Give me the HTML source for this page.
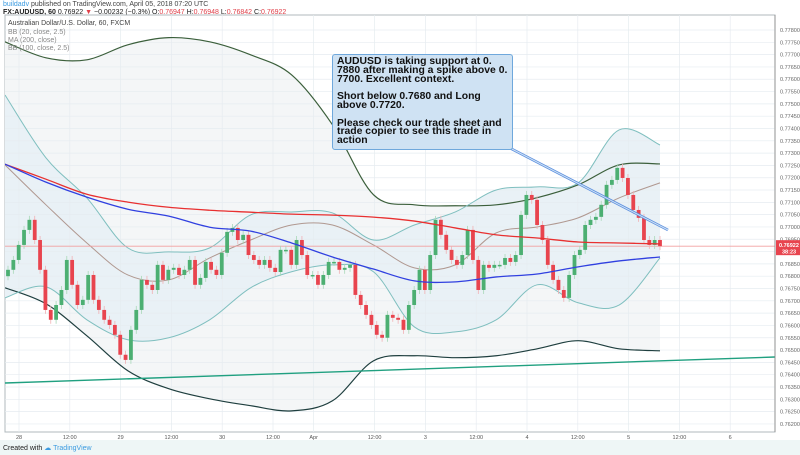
<!DOCTYPE html>
<html><head><meta charset="utf-8"><style>
body{margin:0;width:800px;height:455px;overflow:hidden;background:#fff;font-family:"Liberation Sans",sans-serif;position:relative}
#hdr1{position:absolute;left:3px;top:1px;font-size:7px;color:#444}
#hdr1 b{color:#3c9be0;font-weight:normal}
#hdr2{position:absolute;left:3px;top:9px;font-size:7px;color:#222}
.r{color:#e0404a}
#foot{position:absolute;left:0;top:440px;width:800px;height:15px;background:#eef6f6;font-size:7px;color:#222}
#callout{position:absolute;left:332px;top:54px;width:172px;height:89px;background:#cfe2f3;border:1px solid #6fa8dc;border-radius:3px;padding:3px 3px 2px 4px;font-family:"Liberation Sans",sans-serif;font-weight:bold;font-size:10.4px;line-height:8.8px;color:#111}
#callout p{margin:0 0 8.8px 0}
</style></head><body>
<div id="hdr1"><b>buildadv</b> published on TradingView.com, April 05, 2018 07:20 UTC</div>
<div id="hdr2"><b>FX:AUDUSD, 60</b> 0.76922 <span class="r">▼</span> −0.00232 (−0.3%) O:<span class="r">0.76947</span> H:<span class="r">0.76948</span> L:<span class="r">0.76842</span> C:<span class="r">0.76922</span></div>
<svg id="chart" width="800" height="440" style="position:absolute;left:0;top:0"></svg>
<div id="callout"><p>AUDUSD is taking support at 0. 7880 after making a spike above 0. 7700. Excellent context.</p><p>Short below 0.7680 and Long above 0.7720.</p><p>Please check our trade sheet and trade copier to see this trade in action</p></div>
<div id="foot"><span style="position:absolute;left:3px;top:4px">Created with <span style="color:#3c9be0">☁ TradingView</span></span></div>
<script>
const closes=[0.76826,0.76866,0.76927,0.76988,0.77029,0.76947,0.76826,0.76663,0.76623,0.76683,0.76744,0.76866,0.76765,0.76683,0.76704,0.76805,0.76704,0.76663,0.76623,0.76602,0.76562,0.76481,0.76460,0.76582,0.76663,0.76785,0.76765,0.76744,0.76846,0.76785,0.76826,0.76834,0.76805,0.76826,0.76866,
0.76765,0.76793,0.76858,0.76826,0.76805,0.76895,0.76980,0.76996,0.76947,0.76968,0.76886,0.76866,0.76846,0.76866,0.76834,0.76817,0.76907,0.76907,0.76846,0.76947,0.76886,0.76805,0.76805,0.76765,0.76805,0.76858,0.76858,0.76826,0.76834,0.76846,0.76724,0.76683,0.76643,0.76602,0.76562,0.76550,0.76643,0.76631,0.76623,0.76582,0.76683,0.76744,0.76826,
0.76744,0.76886,0.77029,0.76968,0.76907,0.76866,0.76846,0.76886,0.76988,0.76866,0.76744,0.76846,0.76834,0.76846,0.76846,0.76874,0.76858,0.76886,0.77049,0.77130,0.77110,0.77008,0.76947,0.76846,0.76785,0.76744,0.76712,0.76805,0.76886,0.76907,0.77008,0.77029,0.77041,0.77090,0.77171,0.77191,0.77240,0.77199,0.77130,0.77069,0.77037,0.76947,0.76927,0.76947,0.76922];
const firstOpen=0.76800;
const ma200=[0.77255,0.77194,0.77133,0.77101,0.77080,0.77068,0.77060,0.77052,0.77048,0.77040,0.77024,0.76996,0.76968,0.76955,0.76939,0.76935,0.76931];
const maBlue=[0.77255,0.77182,0.77121,0.77072,0.77044,0.76999,0.76983,0.76935,0.76878,0.76829,0.76781,0.76777,0.76797,0.76809,0.76838,0.76862,0.76878];
const bb100Up=[0.77752,0.77687,0.77679,0.77740,0.77769,0.77752,0.77699,0.77618,0.77415,0.77131,0.77090,0.77086,0.77090,0.77119,0.77171,0.77252,0.77256];
const bb100Lo=[0.76753,0.76688,0.76558,0.76416,0.76343,0.76302,0.76274,0.76253,0.76294,0.76456,0.76477,0.76469,0.76477,0.76505,0.76538,0.76505,0.76497];
const bb20Up=[0.77536,0.77281,0.77118,0.76915,0.76899,0.76915,0.77049,0.77061,0.77057,0.76947,0.77008,0.77061,0.77150,0.77163,0.77179,0.77394,0.77333];
const bb20Lo=[0.76712,0.76757,0.76623,0.76542,0.76550,0.76623,0.76753,0.76818,0.76846,0.76818,0.76594,0.76574,0.76623,0.76765,0.76692,0.76683,0.76874];
const bb20Mid=[0.77252,0.77090,0.76935,0.76805,0.76785,0.76874,0.76947,0.77008,0.77008,0.76927,0.76834,0.76846,0.76976,0.77000,0.77037,0.77118,0.77179];
const yTicks=[0.778,0.7775,0.777,0.7765,0.776,0.7755,0.775,0.7745,0.774,0.7735,0.773,0.7725,0.772,0.7715,0.771,0.7705,0.77,0.7695,0.769,0.7685,0.768,0.7675,0.767,0.7665,0.766,0.7655,0.765,0.7645,0.764,0.7635,0.763,0.7625,0.762];
const xTickLabels=["28","12:00","29","12:00","30","12:00","Apr","12:00","3","12:00","4","12:00","5","12:00","6"];
const xTickPos=[0,0.5,1,1.5,2,2.5,2.9,3.5,4,4.5,5,5.5,6,6.5,7];
const lastPrice=0.76922;

const NS="http://www.w3.org/2000/svg",svg=document.getElementById('chart');
const PL=5,PR=775,PT=15,PB=432;
const y=p=>30+(0.778-p)/0.0005*12.31;
const xDay=d=>19+d*101.6;
const xBar=i=>8+i*(652/(closes.length-1));
const xSmp=k=>5+k*(655/(ma200.length-1));
function el(t,a,parent){const e=document.createElementNS(NS,t);for(const k in a)e.setAttribute(k,a[k]);(parent||svg).appendChild(e);return e;}
function smooth(pts,start){let d=start?'M'+pts[0][0]+','+pts[0][1]:'L'+pts[0][0]+','+pts[0][1];
 for(let i=0;i<pts.length-1;i++){const p0=pts[Math.max(0,i-1)],p1=pts[i],p2=pts[i+1],p3=pts[Math.min(pts.length-1,i+2)];
  const c1=[p1[0]+(p2[0]-p0[0])/6,p1[1]+(p2[1]-p0[1])/6],c2=[p2[0]-(p3[0]-p1[0])/6,p2[1]-(p3[1]-p1[1])/6];
  d+='C'+c1[0]+','+c1[1]+' '+c2[0]+','+c2[1]+' '+p2[0]+','+p2[1];}return d;}
const ptsOf=arr=>arr.map((v,k)=>[xSmp(k),y(v)]);
const clip=el('clipPath',{id:'pc'});el('rect',{x:PL,y:PT,width:PR-PL,height:PB-PT},clip);
let bg=el('rect',{x:PL,y:PT,width:PR-PL,height:PB-PT,fill:'#fff',stroke:'#b0b8bc'});

const g=el('g',{'clip-path':'url(#pc)'});
function band(up,lo,fill,name){const d=smooth(ptsOf(up),true)+smooth(ptsOf(lo).reverse(),false)+'Z';const e=el('path',{d:d,fill:fill},g);}
band(bb100Up,bb100Lo,'#f4f6f7','bb100-fill');
band(bb20Up,bb20Lo,'#e9f1f6','bb20-fill');
yTicks.forEach(p=>{const l=el('line',{x1:PL,x2:PR,y1:y(p),y2:y(p),stroke:'#e6ecf0','stroke-width':0.7},g);});
xTickPos.forEach(d=>{const l=el('line',{x1:xDay(d),x2:xDay(d),y1:PT,y2:PB,stroke:'#e6ecf0','stroke-width':0.7},g);});
function line(arr,col,w,name){const e=el('path',{d:smooth(ptsOf(arr),true),fill:'none',stroke:col,'stroke-width':w},g);}
line(bb100Up,'#3b5f3b',1.2,'bb100-upper');line(bb100Lo,'#1f3f3f',1.2,'bb100-lower');
line(bb20Up,'#7fbfbf',1,'bb20-upper');line(bb20Lo,'#7fbfbf',1,'bb20-lower');line(bb20Mid,'#b09890',1,'bb20-basis');
let hl=el('line',{x1:PL,x2:PR,y1:y(lastPrice),y2:y(lastPrice),stroke:'#f2a0a0','stroke-width':0.8},g);

closes.forEach((c,i)=>{const o=i?closes[i-1]:firstOpen;const up=c>=o;const col=up?'#4caf72':'#e8444e';const x=xBar(i);
 const w=el('line',{x1:x,x2:x,y1:y(Math.max(o,c))-4,y2:y(Math.min(o,c))+4,stroke:up?'#a8d8b8':'#f0b0b4','stroke-width':0.8},g);
 const top=y(Math.max(o,c)),h=Math.max(1.5,Math.abs(y(o)-y(c)));const r=el('rect',{x:x-1.9,y:top,width:3.8,height:h,fill:col},g);});
line(ma200,'#e83030',1.3,'ma200-line');line(maBlue,'#3040e0',1.3,'blue-ma-line');
let tl=el('line',{x1:PL,y1:383,x2:PR,y2:357,stroke:'#20a080','stroke-width':1.4},g);
let pt=el('path',{d:'M508,147 L668,230',stroke:'#5a8ee0','stroke-width':2.6,fill:'none'},g);
let pt2=el('path',{d:'M508,147 L668,230',stroke:'#cfe2f3','stroke-width':1,fill:'none'},g);
const lg=el('g',{'font-size':7,fill:'#555','font-family':'Liberation Sans'});
[['Australian Dollar/U.S. Dollar, 60, FXCM',25,'#444'],['BB (20, close, 2.5)',34,'#888'],['MA (200, close)',42,'#888'],['BB (100, close, 2.5)',50,'#888']].forEach(t=>{const e=el('text',{x:8,y:t[1],fill:t[2]},lg);e.textContent=t[0];});
el('line',{x1:PR,x2:PR,y1:PT,y2:PB,stroke:'#888','stroke-width':0.8});
yTicks.forEach(p=>{const t=el('text',{x:780,y:y(p)+2,'font-size':5.5,fill:'#666'});t.textContent=p.toFixed(5);});
xTickLabels.forEach((s,i)=>{const t=el('text',{x:xDay(xTickPos[i]),y:439,'font-size':5.5,fill:'#555','text-anchor':'middle'});t.textContent=s;});
const ly=y(lastPrice);let lb=el('rect',{x:776,y:ly-6,width:24,height:15,fill:'#e8444e'});
let t1=el('text',{x:779,y:ly+1,'font-size':5.5,fill:'#fff','font-weight':'bold'});t1.textContent=lastPrice.toFixed(5);
let t2=el('text',{x:782,y:ly+7.5,'font-size':5.5,fill:'#fff','font-weight':'bold'});t2.textContent='38:23';
</script>
</body></html>
